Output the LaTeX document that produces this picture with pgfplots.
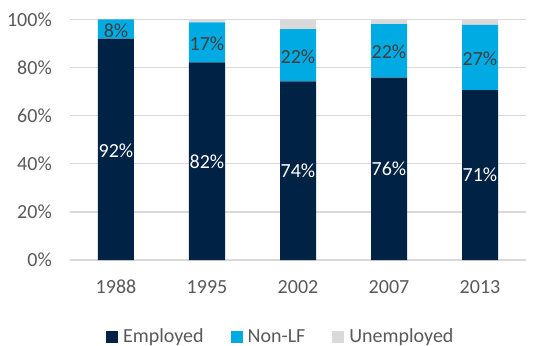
\documentclass[border=0pt]{standalone}
\usepackage{pgfplots}
\pgfplotsset{compat=1.18}
\usepackage{fontspec}
\setmainfont{Carlito}
\definecolor{emp}{HTML}{002244}
\definecolor{nlf}{HTML}{00AAE2}
\definecolor{unemp}{HTML}{D9D9D9}
\definecolor{txt}{HTML}{595959}
\definecolor{lbl}{HTML}{404040}
\definecolor{gridc}{HTML}{D9D9D9}
\begin{document}
\fontsize{20bp}{24bp}\selectfont
\begin{tikzpicture}
\pgfplotsset{
 base/.style={
  scale only axis, width=455bp, height=240.5bp,
  xmin=-0.5, xmax=4.5, ymin=0, ymax=100,
 }}
\begin{axis}[base, ybar stacked, bar width=36bp,
  axis line style={draw=none},
  ymajorgrids, grid style={draw=gridc, line width=1.3bp},
  major tick length=0pt,
  xtick={0,1,2,3,4}, xticklabels={1988,1995,2002,2007,2013},
  ytick={0,20,40,60,80,100},
  yticklabel={\pgfmathprintnumber{\tick}\%},
  /pgf/number format/assume math mode=true,
  tick label style={text=txt, font=\fontsize{20bp}{24bp}\selectfont, inner sep=0pt},
  yticklabel style={anchor=east, xshift=-18.5bp},
  xticklabel style={anchor=center, yshift=-27bp},
  legend columns=3,
  legend style={draw=none, fill=none, at={(axis description cs:0.46,-0.322)}, anchor=center,
    font=\fontsize{20bp}{24bp}\selectfont, text=txt,
    nodes={inner sep=0pt},
    /tikz/every odd column/.append style={column sep=5bp},
    /tikz/every even column/.append style={column sep=27bp}},
  legend image code/.code={\fill[#1] (0bp,-6bp) rectangle (12bp,6bp);},
]
\addplot[fill=emp, draw=none] coordinates {(0,92.0) (1,82.2) (2,74.3) (3,75.8) (4,70.6)};
\addplot[fill=nlf, draw=none] coordinates {(0,8.0) (1,16.6) (2,21.7) (3,22.3) (4,27.2)};
\addplot[fill=unemp, draw=none] coordinates {(0,0) (1,1.2) (2,4.0) (3,1.9) (4,2.2)};
\legend{Employed, Non-LF, Unemployed}
\coordinate (ll) at (rel axis cs:0,0);
\coordinate (ur) at (rel axis cs:1,1);
\end{axis}
\begin{axis}[base, hide axis]
\addplot[only marks, mark=none, nodes near coords, point meta=explicit symbolic,
  nodes near coords style={anchor=center, text=white, inner sep=0pt, font=\fontsize{20bp}{24bp}\selectfont}]
  table[meta=label] {
x y label
0 45.6 92\%
1 40.8 82\%
2 37.15 74\%
3 37.9 76\%
4 35.3 71\%
};
\addplot[only marks, mark=none, nodes near coords, point meta=explicit symbolic,
  nodes near coords style={anchor=center, text=lbl, inner sep=0pt, font=\fontsize{20bp}{24bp}\selectfont}]
  table[meta=label] {
x y label
0 95.4 8\%
1 89.8 17\%
2 84.5 22\%
3 86.6 22\%
4 83.8 27\%
};
\end{axis}
\pgfresetboundingbox
\path ([shift={(-70.5bp,-86bp)}]ll) rectangle ([shift={(14.5bp,19.5bp)}]ur);
\end{tikzpicture}
\end{document}
